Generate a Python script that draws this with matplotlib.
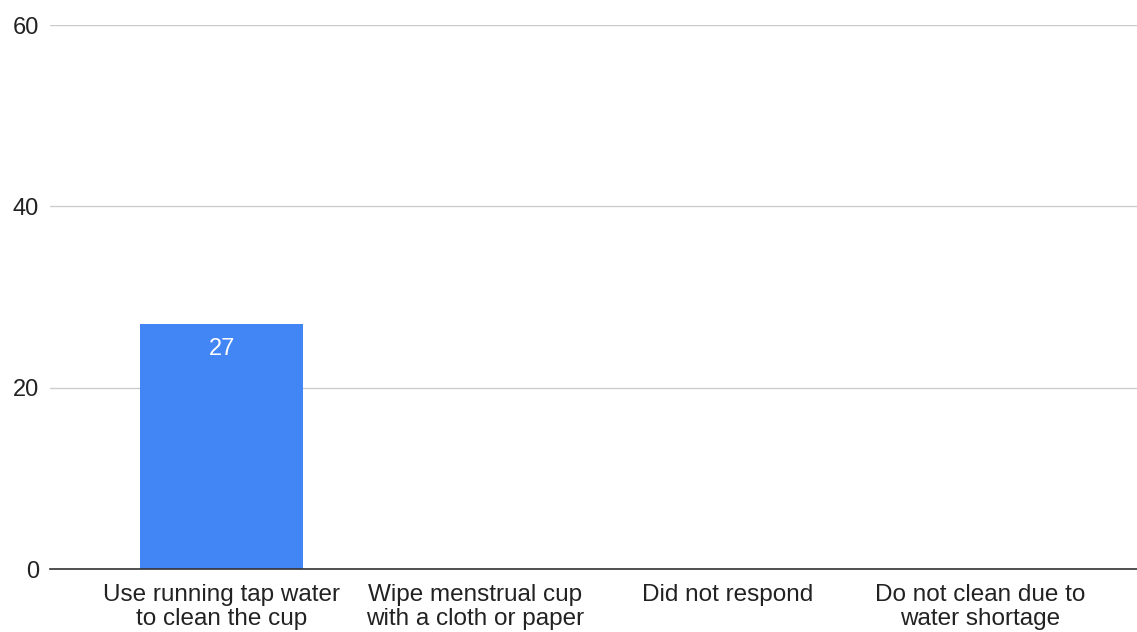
import matplotlib
matplotlib.use("Agg")
import matplotlib.pyplot as plt

categories = ["Use running tap water\nto clean the cup",
              "Wipe menstrual cup\nwith a cloth or paper",
              "Did not respond",
              "Do not clean due to\nwater shortage"]
values = [27, 0, 0, 0]
yticks = [0, 20, 40, 60]

plt.rcParams['font.family'] = ['Liberation Sans', 'DejaVu Sans']

fig = plt.figure(figsize=(11.37, 6.32), dpi=100)
ax = fig.add_axes([50/1137, 1-569/632, 1-50/1137, (569-25)/632])

x = list(range(len(categories)))
bars = ax.bar(x, values, width=0.645, color="#4285f4", zorder=3)
for xi, v in zip(x, values):
    if v > 0:
        ax.text(xi, v - 1.5, str(v), ha="center", va="top", color="white", fontsize=17, zorder=4)

ax.set_xlim(-0.68, 3.62)
ax.set_ylim(0, 60)
ax.set_yticks(yticks)
ax.set_yticklabels([str(t) for t in yticks], fontsize=17, color="#222222")
ax.set_xticks(x)
ax.set_xticklabels(categories, fontsize=17.5, color="#222222", linespacing=1.12)
ax.tick_params(axis="x", length=0, pad=11)
ax.tick_params(axis="y", length=0, pad=8)
ax.grid(axis="y", color="#cccccc", linewidth=1, zorder=0)
for s in ["top", "right", "left"]:
    ax.spines[s].set_visible(False)
ax.spines["bottom"].set_color("#333333")
ax.spines["bottom"].set_linewidth(1.2)
ax.spines["bottom"].set_zorder(5)

fig.savefig("out.png", dpi=100)
